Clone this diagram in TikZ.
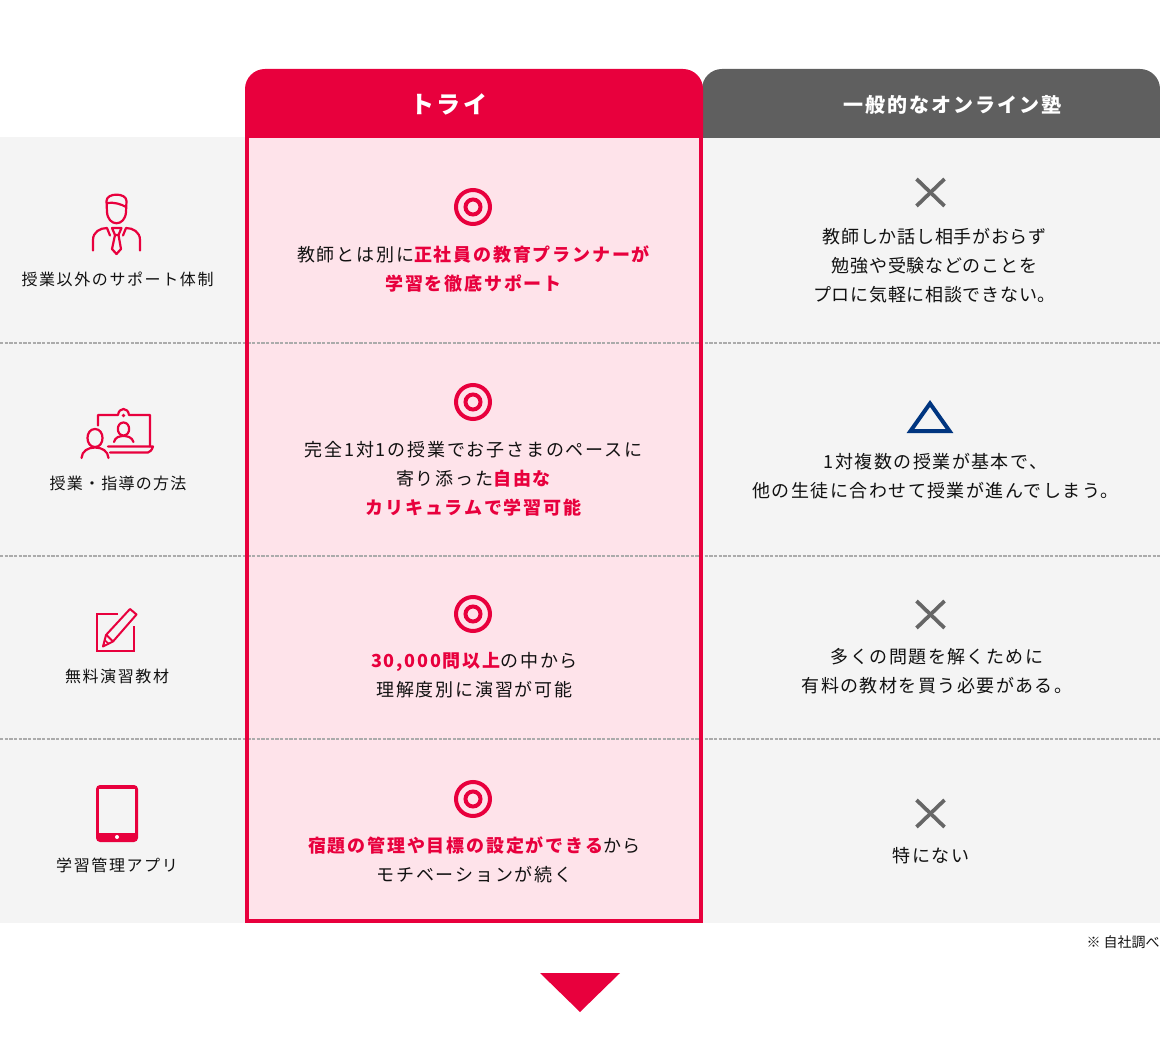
\documentclass[tikz,border=0pt]{standalone}
\usepackage{fontspec}
\newfontfamily\jpfont[LetterSpace=10]{Noto Sans CJK JP}
\newfontfamily\jpmid[LetterSpace=8]{Noto Sans CJK JP}
\newfontfamily\jptight[LetterSpace=4]{Noto Sans CJK JP}
\newfontfamily\jpsmall{Noto Sans CJK JP}
\definecolor{tryred}{HTML}{E8003D}
\definecolor{trypink}{HTML}{FEE3EA}
\definecolor{rowgray}{HTML}{F4F4F4}
\definecolor{headgray}{HTML}{5F5F5F}
\definecolor{crossgray}{HTML}{666666}
\definecolor{triblue}{HTML}{003580}
\definecolor{dashgray}{HTML}{ABABAB}
\definecolor{inkgray}{HTML}{111111}
\newcommand{\hl}[1]{{\color{tryred}\bfseries #1}}
\tikzset{
  bodytext/.style={inner sep=0.75pt,align=center,text=inkgray,font=\jpfont\fontsize{13.5}{21.75}\selectfont},
  midtext/.style={inner sep=0.75pt,align=center,text=inkgray,font=\jpmid\fontsize{13.5}{21.75}\selectfont},
  tighttext/.style={inner sep=0.75pt,align=center,text=inkgray,font=\jptight\fontsize{13.5}{21.75}\selectfont},
  sidetext/.style={inner sep=0.75pt,align=center,text=inkgray,font=\jpfont\fontsize{12}{18}\selectfont},
  headtext/.style={inner sep=0.75pt,text=white,font=\jpfont\bfseries\fontsize{15}{18}\selectfont},
  iconline/.style={draw=tryred,line width=2.2pt*0.75,line cap=round,line join=round},
  markcross/.style={draw=crossgray,line width=2.8pt},
  marktarget/.style={draw=tryred,line width=3pt},
  rowdash/.style={draw=dashgray,line width=0.9pt,dash pattern=on 2.5pt off 1pt}
}
\begin{document}
\begin{tikzpicture}[x=0.75pt,y=0.75pt,yscale=-1,xscale=1]
\useasboundingbox (0,0) rectangle (1160,1062);

%Shape: Rectangle [row bands]
\fill [rowgray] (0,137) -- (1160,137) -- (1160,923) -- (0,923) -- cycle ;
\fill [trypink] (245,137) -- (703,137) -- (703,923) -- (245,923) -- cycle ;

%Shape: Header tabs
\fill [headgray] (702,138) [rounded corners=15pt] -- (702,69) -- (1160,69) [sharp corners] -- (1160,138) -- cycle ;
\fill [tryred] (245,138) [rounded corners=15pt] -- (245,69) -- (703,69) [sharp corners] -- (703,138) -- cycle ;

%Shape: Dashed rows
\draw [rowdash] (0,343) -- (1160,343) ;
\draw [rowdash] (0,556) -- (1160,556) ;
\draw [rowdash] (0,739) -- (1160,739) ;

%Shape: Red frame
\draw [tryred,line width=3pt] (247,137) -- (247,921) -- (701,921) -- (701,137) ;

%Shape: Targets
\foreach \ty in {207,402,614,799} {
  \draw [marktarget] (473,\ty) circle (17) ;
  \draw [marktarget] (473,\ty) circle (7.5) ;
}

%Shape: Crosses
\foreach \cy in {192.5,614.5,813.5} {
  \draw [markcross] (916.5,\cy-13.5) -- (944.5,\cy+13.5) ;
  \draw [markcross] (944.5,\cy-13.5) -- (916.5,\cy+13.5) ;
}

%Shape: Triangle
\draw [draw=triblue,line width=3pt,miter limit=10] (930,403.5) -- (949.5,431) -- (910.5,431) -- cycle ;

%Shape: Arrow
\fill [tryred] (540,973) -- (620,973) -- (580,1012) -- cycle ;

%Icon: Person
\draw [iconline] (106.5,201) .. controls (106.5,192.5) and (126.5,192.5) .. (126.5,201) -- (126,212) .. controls (125,227) and (108,227) .. (107,212) -- cycle ;
\draw [iconline] (107,203) .. controls (114,202) and (121,204) .. (126,207) ;
\draw [iconline] (93,250.5) -- (93,240) .. controls (93,232) and (100,228) .. (107,228) -- (110,235.5) ;
\draw [iconline] (140,250.5) -- (140,240) .. controls (140,232) and (133,228) .. (126,228) -- (123,235.5) ;
\draw [iconline] (112,228) -- (121.5,228) -- (118.5,235) -- (115,235) -- cycle ;
\draw [iconline] (115,235) -- (112,249) -- (116.5,254) -- (121,249) -- (118.5,235) ;

%Icon: Laptop
\draw [iconline] (98,425.5) -- (98,415) -- (118,415) .. controls (119,407) and (128,407) .. (129,415) -- (150,415) -- (150,446.5) ;
\draw [iconline] (108,446.5) -- (153,446.5) .. controls (152,450) and (150,452) .. (148,452.5) -- (110,452.5) ;
\draw [draw=tryred,line width=0.8pt] (123.5,415.5) circle (1) ;
\draw [iconline] (123.5,422.5) .. controls (116,422.5) and (116,435.5) .. (123.5,435.5) .. controls (131,435.5) and (131,422.5) .. (123.5,422.5) -- cycle ;
\draw [iconline] (114,442) .. controls (115,437) and (120,436) .. (123.5,436) .. controls (127,436) and (132,437) .. (133.5,442) ;
\draw [iconline] (95,429) .. controls (85,429) and (85,447) .. (95,447) .. controls (105,447) and (105,429) .. (95,429) -- cycle ;
\draw [iconline] (81.5,458) .. controls (82,451) and (88,447.5) .. (95,447.5) .. controls (102,447.5) and (108,451) .. (108.5,458) ;

%Icon: Pencil sheet
\draw [draw=tryred,line width=1.5pt] (118,613.5) -- (97,613.5) -- (97,651) -- (133.5,651) -- (133.5,625.5) ;
\draw [draw=tryred,line width=1.5pt,line join=round] (103,646.5) -- (106,635) -- (130,609) -- (136.5,614.5) -- (113,641.5) -- cycle ;
\draw [draw=tryred,line width=1.5pt] (106.5,635) -- (113,641.5) ;
\draw [draw=tryred,line width=1.2pt] (104.5,640) -- (109,644) ;

%Icon: Tablet
\fill [tryred,rounded corners=3pt] (96,785) -- (138,785) -- (138,842) -- (96,842) -- cycle ;
\fill [rowgray] (99,788.5) -- (135,788.5) -- (135,832.5) -- (99,832.5) -- cycle ;
\fill [white] (117,837) circle (2) ;

% Text Node
\node (trytitle) [headtext,font=\jpfont\bfseries\fontsize{18}{20}\selectfont] at (449,104) {トライ};
% Text Node
\node (onlinetitle) [headtext] at (952,105) {一般的なオンライン塾};

% Text Node
\node (sideone) [sidetext] at (117.5,279) {授業以外のサポート体制};
% Text Node
\node (sidetwo) [sidetext,font=\jpmid\fontsize{12}{18}\selectfont] at (118,483) {授業・指導の方法};
% Text Node
\node (sidethree) [sidetext] at (117,676) {無料演習教材};
% Text Node
\node (sidefour) [sidetext] at (117,865) {学習管理アプリ};

% Text Node
\node (tryone) [bodytext] at (473.5,269) {教師とは別に\hl{正社員の教育プランナーが}\\\hl{学習を徹底サポート}};
% Text Node
\node (trytwo) [bodytext] at (473.5,478.5) {完全1対1の授業でお子さまのペースに\\寄り添った\hl{自由な}\\\hl{カリキュラムで学習可能}};
% Text Node
\node (trythree) [bodytext] at (474.5,675.5) {\hl{30,000問以上}の中から\\理解度別に演習が可能};
% Text Node
\node (tryfour) [bodytext] at (474.5,860) {\hl{宿題の管理や目標の設定ができる}から\\モチベーションが続く};

% Text Node
\node (otherone) [tighttext] at (934.5,265.5) {教師しか話し相手がおらず\\勉強や受験などのことを\\プロに気軽に相談できない。};
% Text Node
\node (othertwo) [midtext] at (935.5,476.5) {1対複数の授業が基本で、\\他の生徒に合わせて授業が進んでしまう。};
% Text Node
\node (otherthree) [midtext] at (937,671.5) {多くの問題を解くために\\有料の教材を買う必要がある。};
% Text Node
\node (otherfour) [bodytext] at (931,855.5) {特にない};

% Text Node
\node (sourcenote) [inner sep=0pt,anchor=east,text=inkgray,font=\jpsmall\fontsize{10.5}{12}\selectfont] at (1160,942) {※ 自社調べ};

\end{tikzpicture}
\end{document}
